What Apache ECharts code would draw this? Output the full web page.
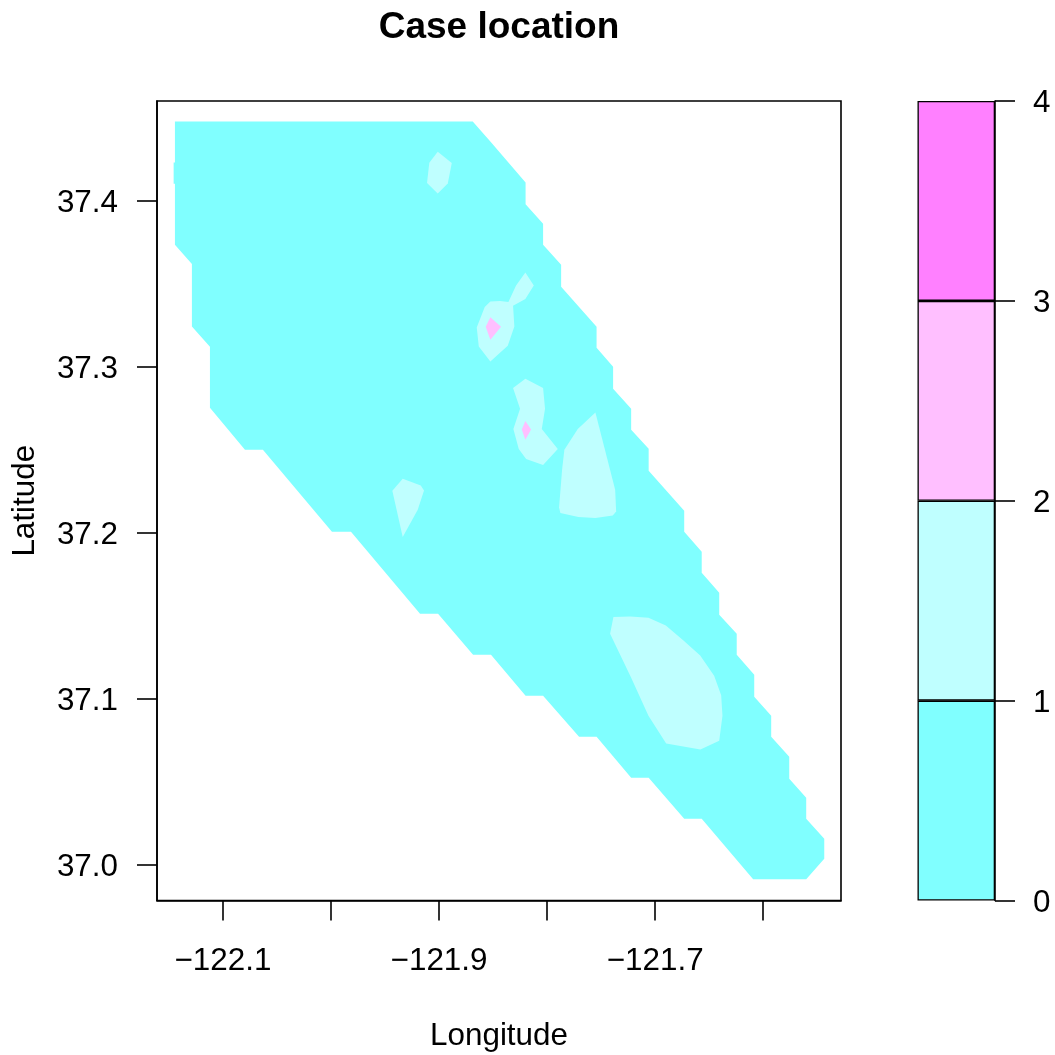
<!DOCTYPE html>
<html>
<head>
<meta charset="utf-8">
<style>html,body{margin:0;padding:0;background:#fff}#c{width:1055px;height:1055px}</style>
<script src="https://cdn.jsdelivr.net/npm/echarts@6/dist/echarts.min.js"></script>
</head>
<body>
<div id="c"></div>
<script>
const titleText = 'Case location';
const xName = 'Longitude';
const yName = 'Latitude';
const xTicks = [-122.1, -122.0, -121.9, -121.8, -121.7, -121.6];
const xLabelled = [-122.1, -121.9, -121.7];
const yTicks = [37.0, 37.1, 37.2, 37.3, 37.4];
const levelBreaks = [0, 1, 2, 3, 4];
const levelColors = ['#80FFFF', '#BFFFFF', '#FFBFFF', '#FF80FF'];

// Level 0-1 region
const region0 = [
[-122.1444,37.4478],[-121.8688,37.4478],[-121.8521,37.4354],[-121.8199,37.4110],[-121.8199,37.3979],
[-121.8037,37.3861],[-121.8037,37.3735],[-121.7870,37.3614],[-121.7870,37.3482],[-121.7542,37.3241],
[-121.7542,37.3114],[-121.7389,37.3000],[-121.7389,37.2867],[-121.7222,37.2747],[-121.7222,37.2620],
[-121.7060,37.2506],[-121.7060,37.2373],[-121.6731,37.2133],[-121.6731,37.2006],[-121.6569,37.1886],
[-121.6569,37.1759],[-121.6407,37.1639],[-121.6407,37.1506],[-121.6245,37.1392],[-121.6245,37.1265],
[-121.6083,37.1145],[-121.6083,37.1012],[-121.5926,37.0898],[-121.5926,37.0771],[-121.5759,37.0651],
[-121.5759,37.0518],[-121.5602,37.0404],[-121.5602,37.0277],[-121.5435,37.0157],[-121.5435,37.0036],
[-121.5602,36.9913],[-121.6093,36.9913],[-121.6569,37.0277],[-121.6731,37.0277],[-121.7060,37.0524],
[-121.7222,37.0524],[-121.7542,37.0771],[-121.7704,37.0771],[-121.8037,37.1018],[-121.8199,37.1018],
[-121.8519,37.1265],[-121.8685,37.1265],[-121.9009,37.1512],[-121.9176,37.1512],[-121.9815,37.2006],
[-121.9991,37.2006],[-122.0630,37.2500],[-122.0796,37.2500],[-122.1120,37.2753],[-122.1120,37.3120],
[-122.1287,37.3243],[-122.1287,37.3619],[-122.1444,37.3735],[-122.1444,37.4102],[-122.1456,37.4102],
[-122.1456,37.4231],[-122.1444,37.4231]
];

// Level 1-2 regions
const blobA = [[-121.9012,37.4295],[-121.8882,37.4227],[-121.8919,37.4104],[-121.9012,37.4044],[-121.9111,37.4107],[-121.9090,37.4229]];
const blobB = [[-121.8201,37.3568],[-121.8123,37.3490],[-121.8201,37.3408],[-121.8315,37.3367],[-121.8303,37.3243],[-121.8364,37.3127],[-121.8525,37.3032],[-121.8632,37.3122],[-121.8651,37.3237],[-121.8577,37.3360],[-121.8525,37.3393],[-121.8435,37.3396],[-121.8358,37.3390],[-121.8287,37.3490]];
const blobC = [[-121.8201,37.2928],[-121.8037,37.2872],[-121.8019,37.2747],[-121.8049,37.2625],[-121.7901,37.2504],[-121.8037,37.2408],[-121.8194,37.2444],[-121.8262,37.2504],[-121.8312,37.2625],[-121.8250,37.2747],[-121.8315,37.2872]];
const blobD = [[-121.7553,37.2725],[-121.7370,37.2259],[-121.7361,37.2128],[-121.7392,37.2104],[-121.7553,37.2089],[-121.7710,37.2095],[-121.7877,37.2119],[-121.7889,37.2152],[-121.7861,37.2380],[-121.7840,37.2500],[-121.7716,37.2625]];
const blobE = [[-121.9336,37.2325],[-121.9169,37.2285],[-121.9139,37.2255],[-121.9197,37.2139],[-121.9336,37.1974],[-121.9432,37.2253]];
const blobF = [[-121.7386,37.1492],[-121.7231,37.1496],[-121.7062,37.1488],[-121.6901,37.1442],[-121.6738,37.1351],[-121.6583,37.1261],[-121.6454,37.1139],[-121.6389,37.1022],[-121.6377,37.0898],[-121.6407,37.0747],[-121.6581,37.0695],[-121.6898,37.0731],[-121.7062,37.0898],[-121.7225,37.1131],[-121.7417,37.1392]];

// Level 2-3 regions
const peakB = [[-121.8525,37.3299],[-121.8426,37.3241],[-121.8525,37.3163],[-121.8568,37.3241]];
const peakC = [[-121.8201,37.2673],[-121.8148,37.2622],[-121.8201,37.2560],[-121.8234,37.2622]];

const polygons = [
  {pts: region0, level: 0},
  {pts: blobA, level: 1}, {pts: blobB, level: 1}, {pts: blobC, level: 1},
  {pts: blobD, level: 1}, {pts: blobE, level: 1}, {pts: blobF, level: 1},
  {pts: peakB, level: 2}, {pts: peakC, level: 2}
];

const FONT = '"Liberation Sans", Arial, sans-serif';
const INK = '#000';
const LW = 1.6;
const AXIS_FONT = 31.4;
const fmtX = v => '\u2212' + Math.abs(v).toFixed(1);

const chart = echarts.init(document.getElementById('c'), null, {renderer: 'canvas'});

const barSeries = levelColors.map((col, i) => ({
  type: 'bar', stack: 'key', xAxisIndex: 1, yAxisIndex: 1, barWidth: '100%',
  data: [levelBreaks[i + 1] - levelBreaks[i]],
  itemStyle: {color: col, borderColor: INK, borderWidth: 1.3},
  silent: true
}));

chart.setOption({
  animation: false,
  backgroundColor: '#fff',
  title: {
    text: titleText, left: 494, top: 4, textAlign: 'center',
    textStyle: {fontFamily: FONT, fontSize: 37, fontWeight: 'bold', color: INK}
  },
  grid: [
    {left: 157, top: 101, width: 684, height: 799.5, outerBoundsMode: 'none', containLabel: false, show: true, borderColor: INK, borderWidth: LW, backgroundColor: 'transparent'},
    {left: 917.5, top: 101, width: 77.5, height: 799.5, outerBoundsMode: 'none', containLabel: false, show: false}
  ],
  xAxis: [
    {
      type: 'value', gridIndex: 0, min: -122.161, max: -121.528, position: 'bottom',
      name: xName, nameLocation: 'center', nameGap: 120,
      nameTextStyle: {fontFamily: FONT, fontSize: AXIS_FONT, color: INK},
      splitLine: {show: false},
      axisLine: {show: true, lineStyle: {color: INK, width: LW}},
      axisTick: {show: true, length: 20, customValues: xTicks, lineStyle: {color: INK, width: LW}},
      axisLabel: {show: true, customValues: xLabelled, margin: 45, formatter: fmtX, fontFamily: FONT, fontSize: AXIS_FONT, color: INK, hideOverlap: false}
    },
    {
      type: 'category', gridIndex: 1, data: ['levels'],
      axisLine: {show: false}, axisTick: {show: false}, axisLabel: {show: false}, splitLine: {show: false}
    }
  ],
  yAxis: [
    {
      type: 'value', gridIndex: 0, min: 36.9785, max: 37.4601, position: 'left',
      name: yName, nameLocation: 'center', nameGap: 116, nameRotate: 90,
      nameTextStyle: {fontFamily: FONT, fontSize: AXIS_FONT, color: INK},
      splitLine: {show: false},
      axisLine: {show: true, lineStyle: {color: INK, width: LW}},
      axisTick: {show: true, length: 20, customValues: yTicks, lineStyle: {color: INK, width: LW}},
      axisLabel: {show: true, customValues: yTicks, margin: 39, verticalAlign: 'top', lineHeight: 5, formatter: v => v.toFixed(1), fontFamily: FONT, fontSize: AXIS_FONT, color: INK}
    },
    {
      type: 'value', gridIndex: 1, min: 0, max: 4, interval: 1, position: 'right',
      splitLine: {show: false},
      axisLine: {show: true, lineStyle: {color: INK, width: LW}},
      axisTick: {show: true, length: 20, lineStyle: {color: INK, width: LW}},
      axisLabel: {show: true, margin: 38, verticalAlign: 'top', lineHeight: 5, fontFamily: FONT, fontSize: AXIS_FONT, color: INK, showMinLabel: true, showMaxLabel: true}
    }
  ],
  series: [
    {
      type: 'custom', xAxisIndex: 0, yAxisIndex: 0, silent: true, clip: false,
      data: polygons.map((p, i) => [p.pts[0][0], p.pts[0][1], i]),
      encode: {x: 0, y: 1},
      renderItem: (params, api) => {
        const p = polygons[api.value(2)];
        return {
          type: 'polygon',
          shape: {points: p.pts.map(q => api.coord(q))},
          style: {fill: levelColors[p.level], stroke: null}
        };
      }
    }
  ].concat(barSeries)
});
</script>
</body>
</html>
